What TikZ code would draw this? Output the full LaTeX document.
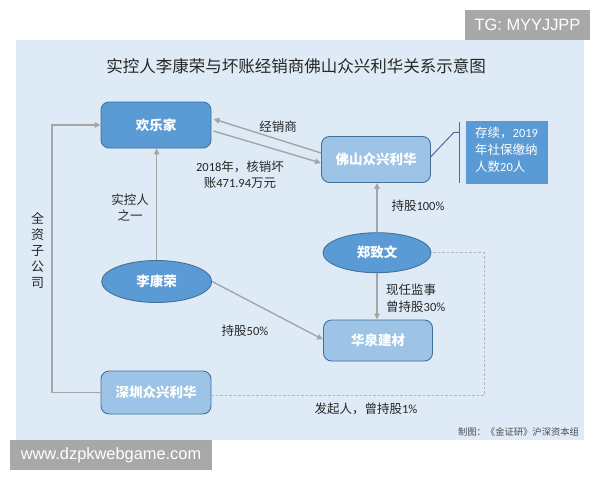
\documentclass[tikz,border=0pt]{standalone}
\usepackage{fontspec}
\setmainfont{Noto Sans CJK SC}
\newfontfamily\carl{Carlito}
\newfontfamily\arialf{Liberation Sans}
\usetikzlibrary{arrows.meta,shapes.geometric}
\definecolor{panelc}{HTML}{DEEBF7}
\definecolor{darkc}{HTML}{5B9BD5}
\definecolor{borderc}{HTML}{41719C}
\definecolor{lightc}{HTML}{9DC3E6}
\definecolor{arrc}{HTML}{A5A5A5}
\definecolor{dashc}{HTML}{B4B4B4}
\definecolor{wmc}{HTML}{A8A8A8}
\definecolor{txtc}{HTML}{262626}
\newcommand\dg[1]{{\carl #1}}
\tikzset{
  boxdark/.style={draw=borderc, line width=0.9pt, fill=darkc, rounded corners=8pt, text=white,
    font=\fontsize{13.5}{16}\selectfont\bfseries, inner sep=0pt},
  boxlight/.style={draw=borderc, line width=0.9pt, fill=lightc, rounded corners=8pt, text=white,
    font=\fontsize{13.5}{16}\selectfont\bfseries, inner sep=0pt},
  elldark/.style={ellipse, draw=borderc, line width=0.9pt, fill=darkc, text=white,
    font=\fontsize{13.5}{16}\selectfont\bfseries, inner sep=0pt},
  lbl/.style={text=txtc, font=\fontsize{12.5}{16}\selectfont, inner sep=0pt, align=center},
  arr/.style={draw=arrc, line width=1.4pt, -{Triangle[length=6pt,width=5.5pt]}},
  dsh/.style={draw=dashc, line width=0.8pt, dash pattern=on 2.5pt off 2pt},
  callout/.style={draw=borderc, line width=1pt},
  wm/.style={fill=wmc, text=white, font=\arialf\fontsize{16.4}{18}\selectfont, inner sep=0pt}
}
\begin{document}
\begin{tikzpicture}[x=1pt,y=-1pt]
\useasboundingbox (0,0) rectangle (600,480);
\fill[white] (0,0) rectangle (600,480);
\fill[panelc] (16,40) rectangle (583.5,440);
% watermarks
\node[wm, minimum width=125pt, minimum height=30pt] (tg) at (527.5,25) {TG: MYYJJPP};
\node[wm, minimum width=202pt, minimum height=30pt] (www) at (111,455) {www.dzpkwebgame.com};
% title
\node[text=txtc, font=\fontsize{16.5}{18}\selectfont, inner sep=0pt] (title) at (296,66) {实控人李康荣与坏账经销商佛山众兴利华关系示意图};
% nodes
\node[boxdark, minimum width=110pt, minimum height=46pt] (hlj) at (156,125) {欢乐家};
\node[boxlight, minimum width=109pt, minimum height=46pt] (fs) at (376,159.5) {佛山众兴利华};
\node[fill=darkc, text=white, minimum width=82pt, minimum height=63pt, inner sep=0pt] (note) at (507,152.5) {};
\node[text=white, font=\fontsize{12.5}{17}\selectfont, align=left, anchor=west, inner sep=0pt] (notetxt) at (475,150) {存续，\dg{2019}\\年社保缴纳\\人数\dg{20}人};
\node[elldark, minimum width=108pt, minimum height=40pt] (zzw) at (377,252.7) {郑致文};
\node[elldark, minimum width=110pt, minimum height=42pt] (lkr) at (156.7,281.5) {李康荣};
\node[boxlight, minimum width=109pt, minimum height=41pt] (hq) at (378,340.5) {华泉建材};
\node[boxlight, minimum width=110pt, minimum height=43pt] (sz) at (156,392.5) {深圳众兴利华};
% callout bracket
\coordinate (cb1) at (459.3,121.7);
\coordinate (cb2) at (459.3,183.3);
\coordinate (cbm) at (459.3,132.3);
\draw[callout] (cb1) -- (cb2);
\draw[callout] ([yshift=3pt]fs.east) -- (454,132.3) -- (cbm);
% connectors
\draw[arr] (lkr.north) -- (lkr.north |- hlj.south);
\draw[arr] ([yshift=6.5pt]fs.west) -- ([xshift=2pt,yshift=6pt]hlj.east);
\draw[arr] ([xshift=2pt,yshift=-6pt]hlj.east) -- ([yshift=-3.5pt]fs.west);
\draw[arr] (zzw.north) -- (zzw.north |- fs.south);
\draw[arr] (zzw.south) -- (zzw.south |- hq.north);
\draw[arr] (lkr.east) -- ([yshift=1pt]hq.west);
\draw[arr] (sz.west) -- ++(-48.5,0) |- (hlj.west);
\draw[dsh] ([yshift=-3pt]sz.east) -| (484,252.7) -- (zzw.east);
% labels
\node[lbl] (l1) at (278,127) {经销商};
\node[lbl] (l2) at (240,175) {\dg{2018}年，核销坏\\账\dg{471.94}万元};
\node[lbl, font=\fontsize{12.5}{15.5}\selectfont] (l3) at (130,207.5) {实控人\\之一};
\node[lbl, font=\fontsize{13}{16.2}\selectfont] (l4) at (37.7,250.5) {全\\资\\子\\公\\司};
\node[lbl] (l5) at (418,205.7) {持股\dg{100\%}};
\node[lbl, align=left, anchor=west, font=\fontsize{12.5}{16.7}\selectfont] (l6) at (386,298.3) {现任监事\\曾持股\dg{30\%}};
\node[lbl] (l7) at (245,330.7) {持股\dg{50\%}};
\node[lbl] (l8) at (366,409.3) {发起人，曾持股\dg{1\%}};
\node[lbl, text=black!70, font=\fontsize{9.3}{11}\selectfont] (l9) at (518.5,431.7) {制图：《金证研》沪深资本组};
\end{tikzpicture}
\end{document}
